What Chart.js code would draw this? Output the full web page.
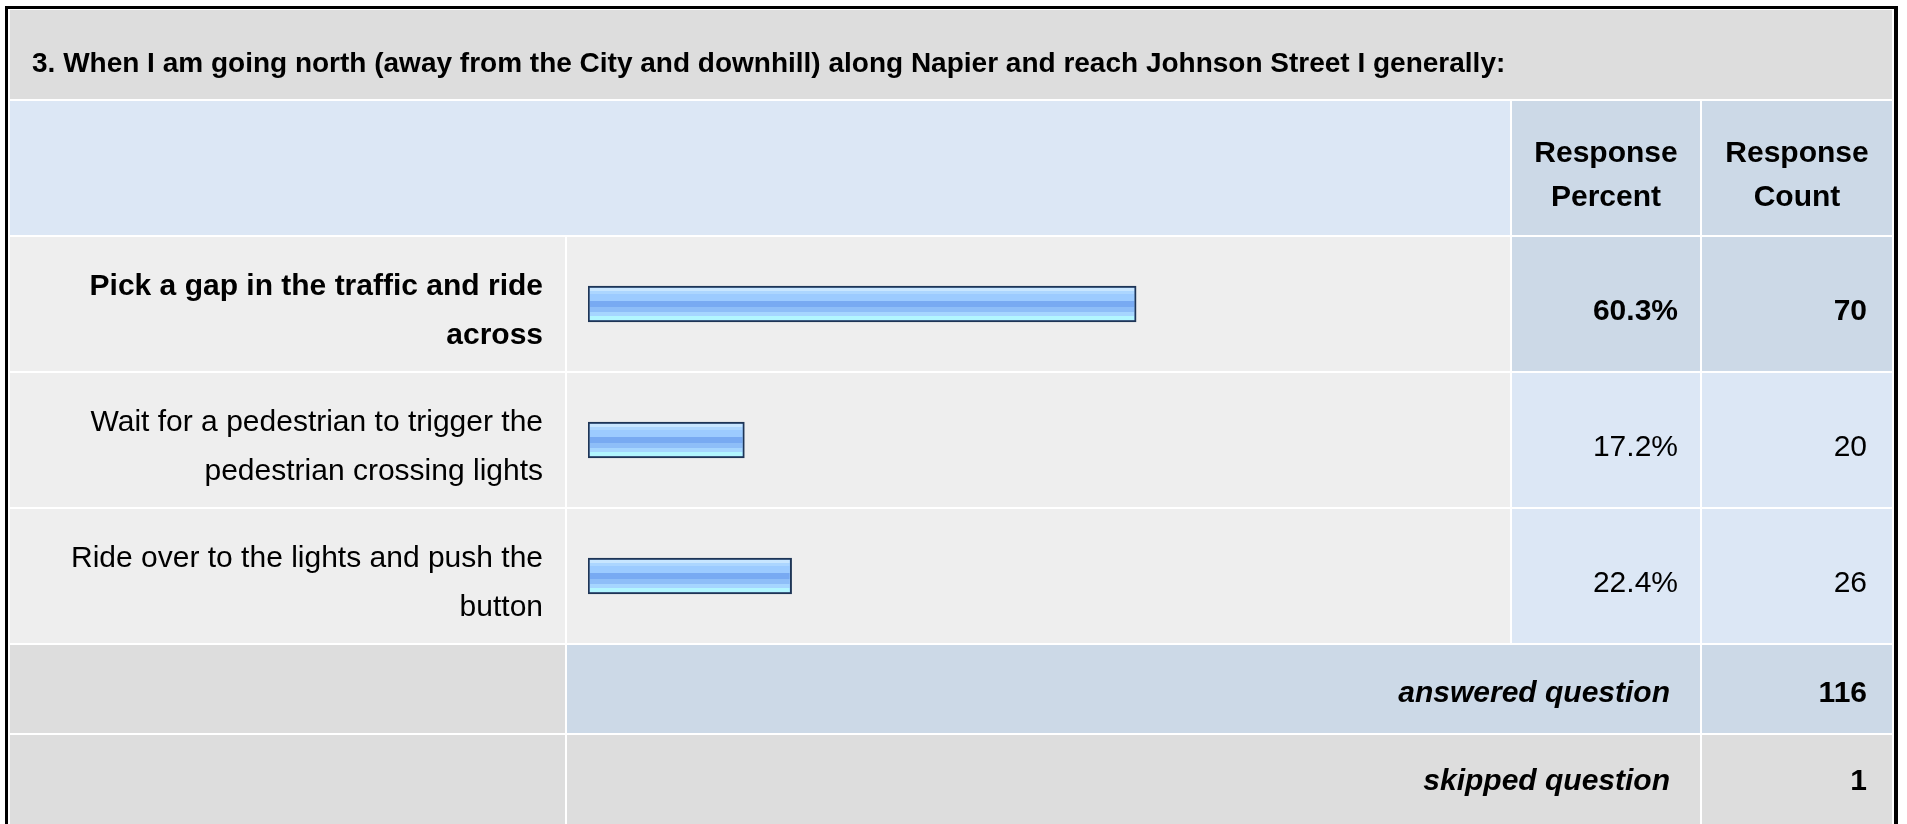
<!DOCTYPE html>
<html>
<head>
<meta charset="utf-8">
<title>Survey question 3</title>
<script src="https://cdn.jsdelivr.net/npm/chart.js@4.4.1/dist/chart.umd.min.js"></script>
<style>
  html, body { margin: 0; padding: 0; background: #fff; }
  canvas { display: block; }
</style>
</head>
<body>
<canvas id="surveyChart" width="1907" height="824"></canvas>
<script>
// question data
const questionTitle = '3. When I am going north (away from the City and downhill) along Napier and reach Johnson Street I generally:';
const headerLabels = [['Response', 'Percent'], ['Response', 'Count']];
const answerLabels = [
    ['Pick a gap in the traffic and ride', 'across'],
    ['Wait for a pedestrian to trigger the', 'pedestrian crossing lights'],
    ['Ride over to the lights and push the', 'button']
];
const responsePercent = [60.3, 17.2, 22.4];
const responseCount = [70, 20, 26];
const summaryLabels = ['answered question', 'skipped question'];
const summaryCounts = [116, 1];

const FONT = "'Liberation Sans', Arial, Helvetica, sans-serif";
const topIndex = responsePercent.indexOf(Math.max(...responsePercent));

// column edges of the table (left/right of each cell)
const cols = [[10, 565], [567, 1510], [1512, 1700], [1702, 1892]];

function cell(ctx, x0, x1, y0, y1, color) {
    ctx.fillStyle = color;
    ctx.fillRect(x0, y0, x1 - x0, y1 - y0);
}

const tablePlugin = {
    id: 'surveyTable',
    beforeDraw(chart) {
        const ctx = chart.ctx;
        const area = chart.chartArea;
        const n = answerLabels.length;
        const band = (area.bottom - area.top) / n;

        ctx.save();
        ctx.fillStyle = '#fff';
        ctx.fillRect(0, 0, chart.width, chart.height);

        // outer frame
        ctx.fillStyle = '#000';
        ctx.fillRect(5, 6, 1893, 830);
        ctx.fillStyle = '#fff';
        ctx.fillRect(8, 9, 1886, 830);

        // title + header rows
        cell(ctx, 10, 1892, 10, 99, '#dddddd');
        cell(ctx, 10, 1510, 101, 235, '#dce7f5');
        cell(ctx, cols[2][0], cols[2][1], 101, 235, '#ccd9e7');
        cell(ctx, cols[3][0], cols[3][1], 101, 235, '#ccd9e7');

        // answer rows
        for (let i = 0; i < n; i++) {
            const y0 = area.top + i * band + 1;
            const y1 = area.top + (i + 1) * band - 1;
            const valueBg = i === topIndex ? '#ccd9e7' : '#dce7f5';
            cell(ctx, cols[0][0], cols[0][1], y0, y1, '#eeeeee');
            cell(ctx, cols[1][0], cols[1][1], y0, y1, '#eeeeee');
            cell(ctx, cols[2][0], cols[2][1], y0, y1, valueBg);
            cell(ctx, cols[3][0], cols[3][1], y0, y1, valueBg);
        }

        // summary rows
        const s0 = area.bottom + 1;
        cell(ctx, cols[0][0], cols[0][1], s0, s0 + 88, '#dddddd');
        cell(ctx, cols[1][0], cols[2][1], s0, s0 + 88, '#ccd9e7');
        cell(ctx, cols[3][0], cols[3][1], s0, s0 + 88, '#ccd9e7');
        cell(ctx, cols[0][0], cols[0][1], s0 + 90, 830, '#dddddd');
        cell(ctx, cols[1][0], cols[2][1], s0 + 90, 830, '#dddddd');
        cell(ctx, cols[3][0], cols[3][1], s0 + 90, 830, '#dddddd');
        ctx.restore();
    },
    afterDatasetsDraw(chart) {
        // striped glossy fill inside each bar border
        const ctx = chart.ctx;
        const meta = chart.getDatasetMeta(0);
        const bw = 2;
        ctx.save();
        meta.data.forEach(bar => {
            const { x, y, base, height } = bar.getProps(['x', 'y', 'base', 'height'], true);
            const top = y - height / 2 + bw;
            const h = height - 2 * bw;
            const g = ctx.createLinearGradient(0, top, 0, top + h);
            const stripes = [
                [0, 0.08, '#c8e6ff'], [0.08, 0.18, '#acd6ff'], [0.18, 0.40, '#9ccbff'],
                [0.40, 0.59, '#78aaf2'], [0.59, 0.75, '#8ebef8'], [0.75, 0.86, '#a6d6ff'],
                [0.86, 1, '#b2f6ff']
            ];
            stripes.forEach(s => { g.addColorStop(s[0], s[2]); g.addColorStop(s[1], s[2]); });
            ctx.fillStyle = g;
            ctx.fillRect(base + bw, top, x - base - 2 * bw, h);
        });
        ctx.restore();
    },
    afterDraw(chart) {
        const ctx = chart.ctx;
        const area = chart.chartArea;
        const yScale = chart.scales.y;
        ctx.save();
        ctx.fillStyle = '#000';
        ctx.textBaseline = 'alphabetic';

        // title
        ctx.font = 'bold 28px ' + FONT;
        ctx.textAlign = 'left';
        ctx.fillText(questionTitle, 32, 72);

        // header
        ctx.font = 'bold 30px ' + FONT;
        ctx.textAlign = 'center';
        headerLabels.forEach((lines, k) => {
            const cx = (cols[k + 2][0] + cols[k + 2][1]) / 2;
            ctx.fillText(lines[0], cx, 162);
            ctx.fillText(lines[1], cx, 206);
        });

        // answer rows
        answerLabels.forEach((lines, i) => {
            const cy = yScale.getPixelForValue(i);
            const weight = i === topIndex ? 'bold ' : '';
            ctx.font = weight + '30px ' + FONT;
            ctx.textAlign = 'right';
            ctx.fillText(lines[0], 543, cy - 9);
            ctx.fillText(lines[1], 543, cy + 40);
            ctx.fillText(responsePercent[i].toFixed(1) + '%', 1678, cy + 16);
            ctx.fillText(String(responseCount[i]), 1867, cy + 16);
        });

        // summary rows
        const baselines = [area.bottom + 58, area.bottom + 146];
        summaryLabels.forEach((label, k) => {
            ctx.font = 'italic bold 30px ' + FONT;
            ctx.textAlign = 'right';
            ctx.fillText(label, 1670, baselines[k]);
            ctx.font = 'bold 30px ' + FONT;
            ctx.fillText(String(summaryCounts[k]), 1867, baselines[k]);
        });
        ctx.restore();
    }
};

new Chart(document.getElementById('surveyChart').getContext('2d'), {
    type: 'bar',
    data: {
        labels: answerLabels,
        datasets: [{
            data: responsePercent,
            backgroundColor: '#9ccbff',
            borderColor: '#1e3556',
            borderWidth: 2,
            borderSkipped: false,
            barThickness: 36
        }]
    },
    options: {
        indexAxis: 'y',
        responsive: false,
        animation: false,
        devicePixelRatio: 1,
        events: [],
        layout: { padding: { left: 588, right: 410, top: 236, bottom: 180 } },
        scales: {
            x: { display: false, min: 0, max: 100 },
            y: { display: false }
        },
        plugins: { legend: { display: false }, tooltip: { enabled: false } }
    },
    plugins: [tablePlugin]
});
</script>
</body>
</html>
